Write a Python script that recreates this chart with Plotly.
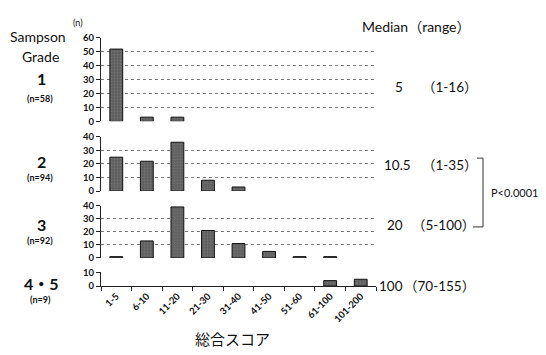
import plotly.graph_objects as go
from plotly.subplots import make_subplots

categories = ["1-5", "6-10", "11-20", "21-30", "31-40", "41-50", "51-60", "61-100", "101-200"]
grade1 = [52, 3, 3, 0, 0, 0, 0, 0, 0]
grade2 = [25, 22, 36, 8, 3, 0, 0, 0, 0]
grade3 = [1, 13, 39, 21, 11, 5, 1, 1, 0]
grade45 = [0, 0, 0, 0, 0, 0, 0, 4, 5]
series = [grade1, grade2, grade3, grade45]
y_max = [60, 40, 40, 10]
y_dtick = [10, 10, 10, 10]

grade_labels = ["1", "2", "3", "4・5"]
n_labels = ["(n=58)", "(n=94)", "(n=92)", "(n=9)"]
medians = ["5", "10.5", "20", "100"]
ranges = ["（1-16）", "（1-35）", "（5-100）", "（70-155）"]

W, H = 546, 355


def px(x):
    return x / W


def py(y):
    return 1 - y / H


fig = make_subplots(rows=4, cols=1, shared_xaxes=True)

# panel extents in pixels: (top of range, zero line)
panel_px = [(33, 119), (135, 191), (206, 260), (275, 289)]
x_dom = [px(101), px(376)]

font_main = "Lato, Noto Sans CJK JP, sans-serif"

for i, vals in enumerate(series):
    r = i + 1
    # empty classes get no outline so nothing shows on the baseline
    outline = [1 if v > 0 else 0 for v in vals]
    fig.add_trace(
        go.Bar(
            x=categories, y=vals, width=0.42,
            marker=dict(color="#5e5e5e", line=dict(color="#111", width=outline),
                        pattern=dict(shape=".", fgcolor="#8a8a8a", size=3, solidity=0.3)),
            showlegend=False,
        ),
        row=r, col=1,
    )
    top, bot = panel_px[i]
    ax = "yaxis" if r == 1 else f"yaxis{r}"
    xa = "xaxis" if r == 1 else f"xaxis{r}"
    fig.layout[ax].update(
        domain=[py(bot), py(top)], range=[0, y_max[i]], dtick=y_dtick[i],
        showgrid=True, gridcolor="#7a7a7a", griddash="dot", gridwidth=1,
        zeroline=False, showline=True, linecolor="#222", linewidth=1,
        ticks="outside", ticklen=4, tickcolor="#222",
        tickfont=dict(family=font_main, size=9.5, color="#111", weight="bold"),
    )
    fig.layout[xa].update(domain=x_dom, showgrid=False, zeroline=False)
    if r < 4:
        fig.layout[xa].update(showticklabels=False, showline=False, ticks="")
    else:
        fig.layout[xa].update(
            showline=True, linecolor="#222", linewidth=1,
            ticks="outside", tickson="boundaries", ticklen=4, tickcolor="#222",
            tickangle=-45,
            tickfont=dict(family=font_main, size=9.5, color="#111", weight="bold"),
        )

ann = []


def text(x, y, s, size, weight="normal", xanchor="center", family=font_main):
    ann.append(dict(x=px(x), y=py(y), xref="paper", yref="paper", text=s,
                    showarrow=False, xanchor=xanchor, yanchor="middle",
                    font=dict(family=family, size=size, color="#111", weight=weight)))


text(38, 31, "Sampson", 14)
text(40, 52, "Grade", 14)
text(78, 17, "(n)", 9)

grade_y = [75, 160, 225, 286]
n_y = [95, 177, 242, 303]
for g, n, gy, ny in zip(grade_labels, n_labels, grade_y, n_y):
    text(41, gy, g, 16, "bold")
    text(40, ny, n, 9, "bold")

text(360, 21, "Median（range）", 14, xanchor="left")
med_x = [393, 382, 385, 377]
rng_x = [420, 420, 410, 402]
med_y = [84, 164, 226, 289]
for m, rg, mx, rx, my in zip(medians, ranges, med_x, rng_x, med_y):
    text(mx, my, m, 13.5, xanchor="left")
    text(rx, my, rg, 13.5, xanchor="left")

text(489, 192, "P<0.0001", 11, xanchor="left")
text(232, 343, "総合スコア", 15, family="Noto Sans CJK JP")

fig.add_shape(type="path", xref="paper", yref="paper",
              path=f"M {px(477)} {py(157)} L {px(483)} {py(157)} L {px(483)} {py(228)} L {px(473)} {py(228)}",
              line=dict(color="#333", width=1))

fig.update_layout(
    width=W, height=H, autosize=False,
    margin=dict(l=0, r=0, t=0, b=0),
    paper_bgcolor="white", plot_bgcolor="white",
    annotations=ann, bargap=0.5,
)

fig.write_html("out.html")
